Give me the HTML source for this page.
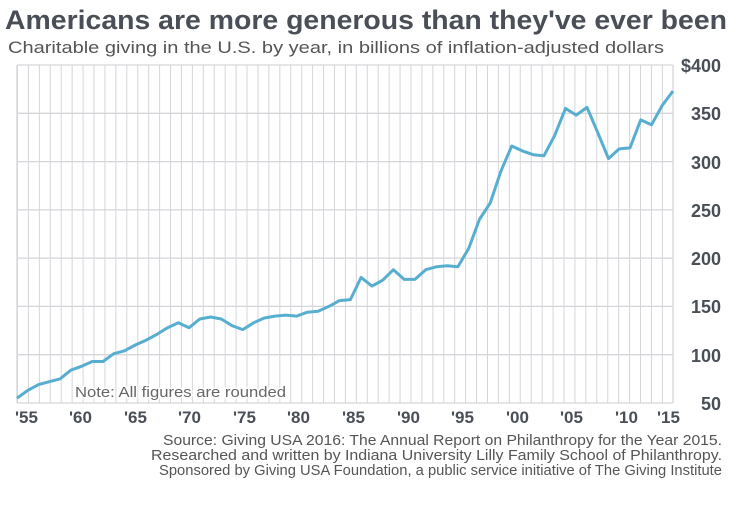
<!DOCTYPE html><html><head><style>body{margin:0;background:#fff}svg{display:block;font-family:"Liberation Sans",sans-serif}</style></head><body>
<svg width="745" height="514" viewBox="0 0 745 514">
<defs><pattern id="vg" x="17" y="0" width="10.93" height="514" patternUnits="userSpaceOnUse"><line x1="0.5" y1="0" x2="0.5" y2="514" stroke="#d4d6da" stroke-width="1"/></pattern></defs>
<text x="5" y="29" font-size="27" font-weight="bold" fill="#4a4f57" textLength="722" lengthAdjust="spacingAndGlyphs">Americans are more generous than they've ever been</text>
<text x="8" y="53" font-size="17" fill="#555" textLength="656" lengthAdjust="spacingAndGlyphs">Charitable giving in the U.S. by year, in billions of inflation-adjusted dollars</text>
<rect x="17" y="65" width="656" height="338" fill="url(#vg)"/>
<g stroke="#d4d6da" stroke-width="1.3">
<line x1="17" y1="65" x2="673" y2="65"/><line x1="17" y1="113.3" x2="673" y2="113.3"/><line x1="17" y1="161.6" x2="673" y2="161.6"/><line x1="17" y1="209.9" x2="673" y2="209.9"/><line x1="17" y1="258.1" x2="673" y2="258.1"/><line x1="17" y1="306.4" x2="673" y2="306.4"/><line x1="17" y1="354.7" x2="673" y2="354.7"/><line x1="17" y1="403" x2="673" y2="403"/>
<line x1="17" y1="65" x2="17" y2="403"/><line x1="673" y1="65" x2="673" y2="403"/></g>
<text x="75" y="397" font-size="15" fill="#666" style="paint-order:stroke" stroke="#fff" stroke-width="3" textLength="211" lengthAdjust="spacingAndGlyphs">Note: All figures are rounded</text>
<polyline fill="none" stroke="#58aed0" stroke-width="3" stroke-linejoin="round" points="17,398.2 27.8,390.4 38.5,384.6 49.3,381.7 60,378.9 70.8,370.2 81.5,366.3 92.3,361.5 103,361.5 113.8,353.7 124.5,350.8 135.3,345 146,340.2 156.8,334.4 167.6,327.7 178.3,322.8 189.1,327.7 199.8,319 210.6,317 221.3,319 232.1,325.7 242.8,329.6 253.6,322.8 264.3,318 275.1,316.1 285.9,315.1 296.6,316.1 307.4,312.2 318.1,311.2 328.9,306.4 339.6,300.6 350.4,299.6 361.1,277.4 371.9,286.1 382.6,280.3 393.4,269.7 404.2,279.4 414.9,279.4 425.7,269.7 436.4,266.8 447.2,265.8 457.9,266.8 468.7,248.4 479.4,219.5 490.2,203 500.9,171.2 511.7,146 522.4,150.9 533.2,154.7 544,155.7 554.7,135.4 565.5,108.4 576.2,115.1 587,107.4 597.7,132.5 608.5,158.6 619.2,148.9 630,147.9 640.7,119.9 651.5,124.8 662.2,105.5 673,91"/>
<g font-size="18" font-weight="bold" fill="#4a4f57" text-anchor="end">
<text x="721" y="72">$400</text><text x="721" y="120">350</text><text x="721" y="169">300</text><text x="721" y="217">250</text><text x="721" y="265">200</text><text x="721" y="313">150</text><text x="721" y="362">100</text><text x="721" y="410">50</text></g>
<g font-size="17" font-weight="bold" fill="#4a4f57">
<text x="15" y="423">'55</text><text x="69" y="423">'60</text><text x="124" y="423">'65</text><text x="178" y="423">'70</text><text x="233" y="423">'75</text><text x="287" y="423">'80</text><text x="342" y="423">'85</text><text x="397" y="423">'90</text><text x="451" y="423">'95</text><text x="506" y="423">'00</text><text x="560" y="423">'05</text><text x="615" y="423">'10</text><text x="657" y="423">'15</text></g>
<g font-size="15" fill="#555">
<text x="163" y="445" textLength="559" lengthAdjust="spacingAndGlyphs">Source: Giving USA 2016: The Annual Report on Philanthropy for the Year 2015.</text>
<text x="151" y="460" textLength="571" lengthAdjust="spacingAndGlyphs">Researched and written by Indiana University Lilly Family School of Philanthropy.</text>
<text x="159" y="475" textLength="563" lengthAdjust="spacingAndGlyphs">Sponsored by Giving USA Foundation, a public service initiative of The Giving Institute</text></g>
</svg></body></html>
